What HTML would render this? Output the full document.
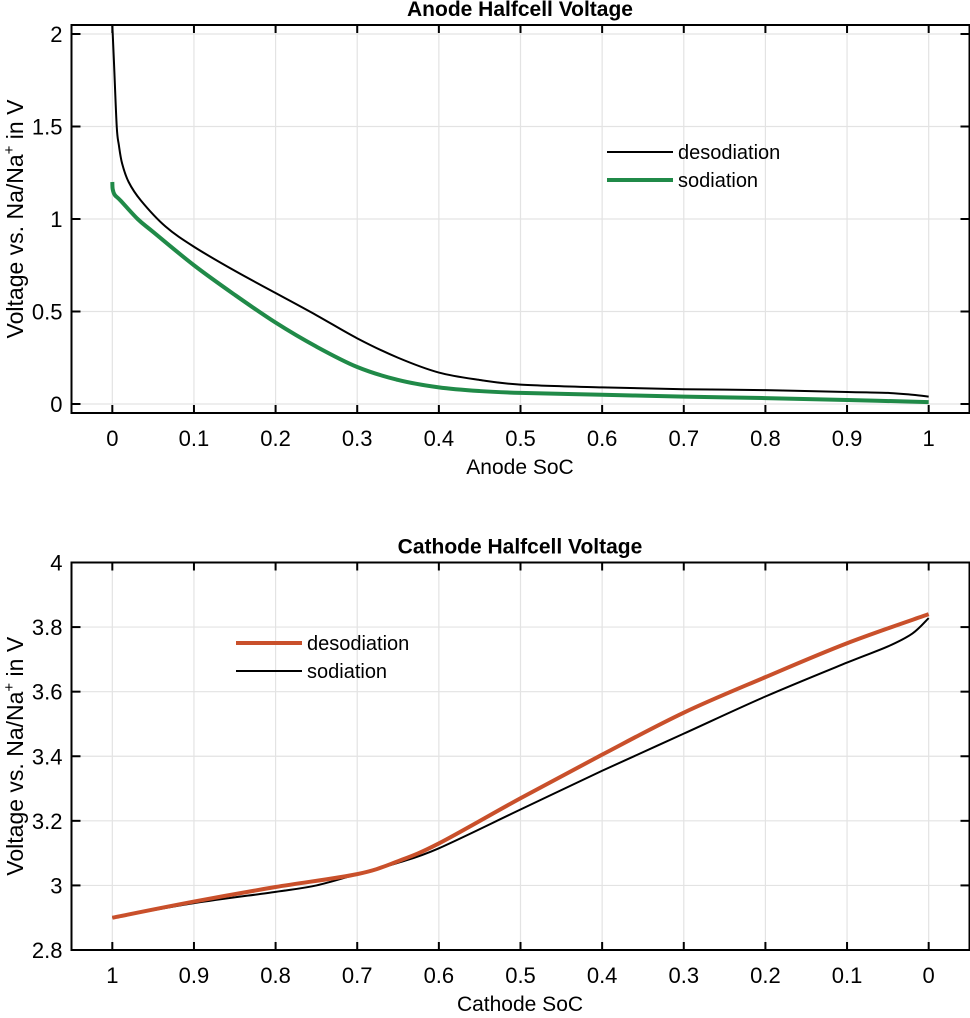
<!DOCTYPE html>
<html><head><meta charset="utf-8"><style>
body{margin:0;background:#fff;}
svg text{font-family:"Liberation Sans",Arial,sans-serif;fill:#000;}
</style></head><body>
<svg id="fig" width="970" height="1013" viewBox="0 0 970 1013" xmlns="http://www.w3.org/2000/svg"></svg>
<script>
// Anode data
const anodeDesX = [0,0.002,0.0054,0.008,0.012,0.02,0.035,0.065,0.1,0.15,0.2,0.25,0.3,0.35,0.4,0.45,0.5,0.6,0.7,0.8,0.9,0.95,0.98,1.0];
const anodeDesY = [2.05,1.85,1.5,1.4,1.3,1.2,1.1,0.96,0.85,0.72,0.6,0.48,0.355,0.25,0.17,0.13,0.105,0.09,0.08,0.075,0.065,0.06,0.05,0.04];
const anodeSodX = [0,0.0005,0.003,0.01,0.031,0.05,0.1,0.15,0.2,0.25,0.3,0.35,0.4,0.45,0.5,0.6,0.7,0.8,0.9,1.0];
const anodeSodY = [1.2,1.16,1.13,1.1,1.0,0.93,0.75,0.59,0.44,0.31,0.2,0.13,0.09,0.07,0.06,0.05,0.04,0.032,0.022,0.01];
// Cathode data
const cathDesX = [1,0.9,0.8,0.7,0.65,0.6,0.5,0.4,0.3,0.2,0.1,0];
const cathDesY = [2.9,2.95,2.995,3.035,3.075,3.13,3.27,3.405,3.535,3.645,3.75,3.84];
const cathSodX = [1,0.9,0.8,0.75,0.7,0.65,0.6,0.5,0.4,0.3,0.2,0.1,0.05,0.02,0];
const cathSodY = [2.9,2.945,2.98,3.0,3.035,3.07,3.115,3.235,3.355,3.47,3.585,3.69,3.74,3.78,3.828];
const xTicks = [0,0.1,0.2,0.3,0.4,0.5,0.6,0.7,0.8,0.9,1];
const xTickLabels = ['0','0.1','0.2','0.3','0.4','0.5','0.6','0.7','0.8','0.9','1'];
const anodeYTicks = [0,0.5,1,1.5,2];
const anodeYTickLabels = ['0','0.5','1','1.5','2'];
const cathYTicks = [2.8,3,3.2,3.4,3.6,3.8,4];
const cathYTickLabels = ['2.8','3','3.2','3.4','3.6','3.8','4'];

const NS='http://www.w3.org/2000/svg';
const svg=document.getElementById('fig');
function mk(tag,attrs,parent,name,text){const e=document.createElementNS(NS,tag);for(const k in attrs)e.setAttribute(k,attrs[k]);


if(text!==undefined)e.textContent=text;(parent||svg).appendChild(e);return e;}

function smoothPath(pts){
  let d='M'+pts[0][0].toFixed(2)+','+pts[0][1].toFixed(2);
  for(let i=0;i<pts.length-1;i++){
    const p0=pts[Math.max(0,i-1)],p1=pts[i],p2=pts[i+1],p3=pts[Math.min(pts.length-1,i+2)];
    const k=1/6;
    const c1=[p1[0]+(p2[0]-p0[0])*k,p1[1]+(p2[1]-p0[1])*k];
    const c2=[p2[0]-(p3[0]-p1[0])*k,p2[1]-(p3[1]-p1[1])*k];
    d+=' C'+c1.map(v=>v.toFixed(2)).join(',')+' '+c2.map(v=>v.toFixed(2)).join(',')+' '+p2[0].toFixed(2)+','+p2[1].toFixed(2);
  }
  return d;
}

function axes(cfg){
  const g=mk('g',{},svg,cfg.name);
  const L=71.5,R=969.5,T=cfg.top,B=cfg.bottom;
  const sx=v=>{const t=(v-cfg.xmin)/(cfg.xmax-cfg.xmin);return cfg.rev?R-t*(R-L):L+t*(R-L);};
  const sy=v=>B-(v-cfg.ymin)/(cfg.ymax-cfg.ymin)*(B-T);
  xTicks.forEach((v,i)=>{mk('line',{x1:sx(v),x2:sx(v),y1:T,y2:B,stroke:'#e3e3e3','stroke-width':1.2},g,'x-grid-line');});
  cfg.yt.forEach(v=>{mk('line',{x1:L,x2:R,y1:sy(v),y2:sy(v),stroke:'#e3e3e3','stroke-width':1.2},g,'y-grid-line');});
  cfg.series.forEach(s=>{
    const pts=s.x.map((v,i)=>[sx(v),sy(s.y[i])]);
    mk('path',{d:smoothPath(pts),fill:'none',stroke:s.color,'stroke-width':s.w,'stroke-linejoin':'round'},g,s.name);
  });
  mk('rect',{x:L,y:T,width:R-L,height:B-T,fill:'none',stroke:'#000','stroke-width':2},g,'axes-box');
  xTicks.forEach((v,i)=>{
    mk('line',{x1:sx(v),x2:sx(v),y1:B,y2:B-8,stroke:'#000','stroke-width':2},g,'x-tick');
    mk('line',{x1:sx(v),x2:sx(v),y1:T,y2:T+8,stroke:'#000','stroke-width':2},g,'x-tick-top');
    mk('text',{x:sx(v),y:B+33,'font-size':22,'text-anchor':'middle'},g,'x-tick-label',xTickLabels[i]);
  });
  cfg.yt.forEach((v,i)=>{
    mk('line',{x1:L,x2:L+9,y1:sy(v),y2:sy(v),stroke:'#000','stroke-width':2},g,'y-tick');
    mk('line',{x1:R,x2:R-9,y1:sy(v),y2:sy(v),stroke:'#000','stroke-width':2},g,'y-tick-right');
    mk('text',{x:L-9,y:sy(v)+8,'font-size':22,'text-anchor':'end'},g,'y-tick-label',cfg.ytl[i]);
  });
  mk('text',{x:520,y:T-9,'font-size':21,'font-weight':'bold','text-anchor':'middle'},g,'chart-title',cfg.title);
  mk('text',{x:520,y:B+61,'font-size':21,'text-anchor':'middle'},g,'x-axis-title',cfg.xlabel);
  const yl=mk('text',{x:0,y:0,'font-size':23,'text-anchor':'middle',transform:'translate(23,'+((T+B)/2)+') rotate(-90)'},g,'y-axis-title');
  yl.appendChild(document.createTextNode('Voltage vs. Na/Na'));
  mk('tspan',{'font-size':15,dy:-9},yl,'superscript','+');
  mk('tspan',{dy:9},yl,'y-axis-title-suffix',' in V');
  cfg.legend.forEach((l,i)=>{
    const y=cfg.legY+i*28;
    mk('line',{x1:cfg.legX,x2:cfg.legX+66,y1:y,y2:y,stroke:l.color,'stroke-width':l.w},g,'legend-line');
    mk('text',{x:cfg.legX+71,y:y+7,'font-size':20},g,'legend-entry',l.label);
  });
}
axes({name:'anode-chart',top:25,bottom:413,xmin:-0.05,xmax:1.05,ymin:-0.0486,ymax:2.0486,rev:false,
  yt:anodeYTicks,ytl:anodeYTickLabels,title:'Anode Halfcell Voltage',xlabel:'Anode SoC',
  series:[{x:anodeSodX,y:anodeSodY,color:'#208a48',w:4,name:'anode-sodiation-line'},{x:anodeDesX,y:anodeDesY,color:'#000',w:2,name:'anode-desodiation-line'}],
  legX:607,legY:152,legend:[{color:'#000',w:2,label:'desodiation'},{color:'#208a48',w:4,label:'sodiation'}]});
axes({name:'cathode-chart',top:562.5,bottom:950,xmin:-0.05,xmax:1.05,ymin:2.8,ymax:4,rev:true,
  yt:cathYTicks,ytl:cathYTickLabels,title:'Cathode Halfcell Voltage',xlabel:'Cathode SoC',
  series:[{x:cathSodX,y:cathSodY,color:'#000',w:2,name:'cathode-sodiation-line'},{x:cathDesX,y:cathDesY,color:'#c9502b',w:4,name:'cathode-desodiation-line'}],
  legX:236,legY:643,legend:[{color:'#c9502b',w:4,label:'desodiation'},{color:'#000',w:2,label:'sodiation'}]});
</script>
</body></html>
